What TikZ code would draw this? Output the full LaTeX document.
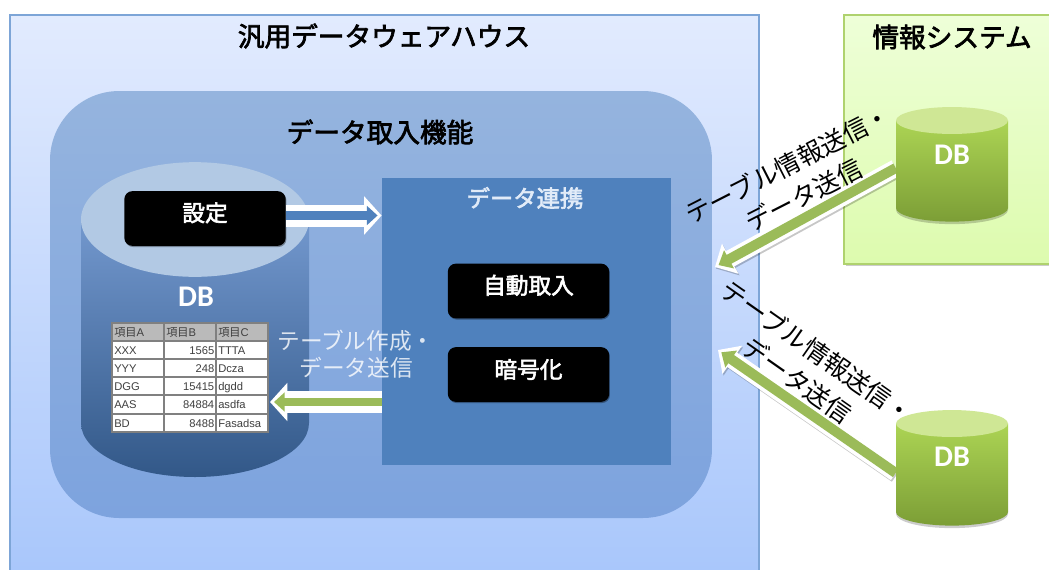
\documentclass[tikz,border=0pt]{standalone}
\usepackage{fontspec}
\setmainfont{Noto Sans CJK JP}[BoldFont=Noto Sans CJK JP,BoldFeatures={FakeBold=2.6}]
\newfontfamily\dbfont{Carlito}
\newfontfamily\tblfont{Liberation Sans}
\newfontfamily\tblcjk{Noto Sans CJK JP}
\usetikzlibrary{arrows.meta,shadows}
\definecolor{panelblue}{HTML}{4F81BD}
\definecolor{arrowgreen}{HTML}{9BBB59}
\tikzset{
  blackbox/.style={fill=black,rounded corners=6pt,text=white,font=\fontsize{17}{20}\selectfont\bfseries,
    minimum width=121pt,minimum height=41pt,inner sep=0pt,
    drop shadow={shadow xshift=0.6pt,shadow yshift=-0.9pt,opacity=.35,fill=black}},
  title/.style={font=\fontsize{20}{24}\selectfont\bfseries,text=black,inner sep=0pt},
  dblabel/.style={font=\dbfont\fontsize{22.5}{24}\selectfont\bfseries,text=white,inner sep=0pt},
  cyl/.style={inner sep=0pt,fill=none},
  wideout/.style={white,line width=16.5pt,-{Triangle[length=13pt,width=28pt]}},
  slimout/.style={white,line width=13pt,-{Triangle[length=13pt,width=25pt]}},
  wideinner/.style={line width=6.5pt,shorten >=3pt,-{Triangle[length=8pt,width=14pt]}},
  sliminner/.style={arrowgreen,line width=7.5pt,shorten >=3pt,-{Triangle[length=9pt,width=15pt]}},
  slimshadow/.style={black,opacity=.22,line width=13pt,-{Triangle[length=13pt,width=25pt]},
    transform canvas={xshift=0.8pt,yshift=-1.2pt}},
  cell/.style={font=\tblfont\fontsize{8.4}{10}\selectfont,text=black!75,inner sep=0pt,anchor=base west},
  cellnum/.style={cell,anchor=base east},
  sidelabel/.style={font=\fontsize{19}{26}\selectfont,align=center,text=black,inner sep=0pt},
  gridline/.style={draw=black!50,line width=1.2pt}
}
\begin{document}
\begin{tikzpicture}[x=0.75pt,y=-0.75pt]
\useasboundingbox (0,0) rectangle (1049,569);
\clip (0,0) rectangle (1049,569);
\fill[white] (0,0) rectangle (1049,569);

% warehouse frame
\shade[top color={rgb,255:red,226;green,235;blue,254},bottom color={rgb,255:red,166;green,197;blue,251}]
  (10,15) rectangle (759,600);
\draw[draw={rgb,255:red,125;green,165;blue,215},line width=0.9pt] (10,600) -- (10,15) -- (759,15) -- (759,600);

% information system frame
\fill[black,opacity=.2] (846,17) rectangle (1060,266);
\shade[top color={rgb,255:red,238;green,255;blue,216},bottom color={rgb,255:red,221;green,251;blue,174}]
  (844,15) rectangle (1060,264);
\draw[draw={rgb,255:red,175;green,210;blue,110},line width=0.9pt] (1060,15) -- (844,15) -- (844,264) -- (1060,264);
\node[title] (sysT) at (952,37) {情報システム};

% titles
\node[title] (dwhT) at (384,36) {汎用データウェアハウス};

% intake capability block
\shade[rounded corners=52pt,top color={rgb,255:red,149;green,180;blue,222},bottom color={rgb,255:red,125;green,163;blue,222}]
  (50,91) rectangle (712,518);
\node[title] (inT) at (380,132) {データ取入機能};

% large DB cylinder
\node[cyl,minimum width=171pt,minimum height=236pt] (mainDB) at (195,319.5) {};
\shade[top color={rgb,255:red,115;green,152;blue,206},middle color={rgb,255:red,80;green,128;blue,190},bottom color={rgb,255:red,50;green,88;blue,136}]
  (81,219) -- (81,423) arc[start angle=180,end angle=360,x radius=85.5pt,y radius=40.5pt] -- (309,219) -- cycle;
\fill[fill={rgb,255:red,178;green,201;blue,228}] (195,219.5) ellipse [x radius=85.5pt,y radius=43pt];
\node[dblabel] (mainDBT) at (196,297) {DB};

% panel
\node[fill=panelblue,minimum width=217pt,minimum height=215.25pt,inner sep=0pt] (panel) at (526.5,321.5) {};
\node[inner sep=0pt,font=\fontsize{17.5}{20}\selectfont\bfseries,text={rgb,255:red,225;green,235;blue,248}] (panelT) at (525,198) {データ連携};
\node[blackbox] (settei) at (205,218.5) {\raisebox{10pt}{設定}};
\node[blackbox] (auto) at (528.5,291) {\raisebox{10pt}{自動取入}};
\node[blackbox] (crypt) at (528.5,374.5) {\raisebox{9pt}{暗号化}};

% table
\fill[white] (112,323) rectangle (268,432);
\fill[black!27] (112,323) rectangle (268,341);
\foreach \yy in {341,359,377,395,414} \draw[gridline] (112,\yy) -- (268,\yy);
\foreach \xx in {164,216} \draw[gridline] (\xx,323) -- (\xx,432);
\draw[gridline,line width=.8pt] (112,323) rectangle (268,432);
\foreach \ta/\tb/\tc/\yy [count=\i] in {XXX/1565/TTTA/354,YYY/248/Dcza/372,DGG/15415/dgdd/390,AAS/84884/asdfa/408.5,BD/8488/Fasadsa/427}{
  \node[cell] (ca\i) at (114,\yy) {\ta};
  \node[cellnum] (cb\i) at (214.5,\yy) {\tb};
  \node[cell] (cc\i) at (218,\yy) {\tc};
}
\node[cell] (ha) at (114,336) {{\tblcjk 項目}A};
\node[cell] (hb) at (166,336) {{\tblcjk 項目}B};
\node[cell] (hc) at (218,336) {{\tblcjk 項目}C};

% arrows inside the block
\coordinate (setTip) at (panel.west |- 0,215.5);
\coordinate (setFrom) at (settei.east |- setTip);
\draw[wideout] (setFrom) -- (setTip);
\draw[wideinner,panelblue] (setFrom) -- (setTip);
\coordinate (tblFrom) at (panel.west |- 0,402);
\coordinate (tblTip) at (270,402);
\draw[wideout] (tblFrom) -- (tblTip);
\draw[wideinner,arrowgreen] (tblFrom) -- (tblTip);
\node[inner sep=0pt,font=\fontsize{17}{20}\selectfont,align=center,text=white,opacity=.8] (mkT) at (356,354) {テーブル作成・\\データ送信};

% source DB 1 and 2: connectors first
\node[cyl,minimum width=84pt,minimum height=86pt] (db1) at (952,164.5) {};
\node[cyl,minimum width=84pt,minimum height=87pt] (db2) at (952,468) {};
\coordinate (tip1) at (715,267);
\coordinate (tip2) at (718,350);
\coordinate (from1) at (db1.west |- 0,168);
\coordinate (from2) at (db2.west |- 0,473);
\draw[slimshadow] (from1) -- (tip1);
\draw[slimshadow] (from2) -- (tip2);
\draw[slimout] (from1) -- (tip1);
\draw[slimout] (from2) -- (tip2);
\draw[sliminner] (from1) -- (tip1);
\draw[sliminner] (from2) -- (tip2);

\foreach \cy/\ce/\n in {120.5/208/a,423.5/512/b}{
  \fill[black,opacity=.2] (896,\ce+2) arc[start angle=180,end angle=360,x radius=42pt,y radius=10.6pt] -- (1008,\ce) -- (896,\ce) -- cycle;
  \shade[top color={rgb,255:red,172;green,212;blue,84},bottom color={rgb,255:red,124;green,158;blue,54}]
    (896,\cy) -- (896,\ce) arc[start angle=180,end angle=360,x radius=42pt,y radius=10.2pt] -- (1008,\cy) -- cycle;
  \fill[fill={rgb,255:red,207;green,231;blue,149}] (952,\cy) ellipse [x radius=42pt,y radius=10.1pt];
}
\node[dblabel] (db1T) at (952,155) {DB};
\node[dblabel] (db2T) at (952,457) {DB};

% rotated labels
\node[sidelabel,rotate=27] (lab1) at (796,180) {テーブル情報送信・\\データ送信};
\node[sidelabel,rotate=-35] (lab2) at (807,366) {テーブル情報送信・\\データ送信};
\end{tikzpicture}
\end{document}
